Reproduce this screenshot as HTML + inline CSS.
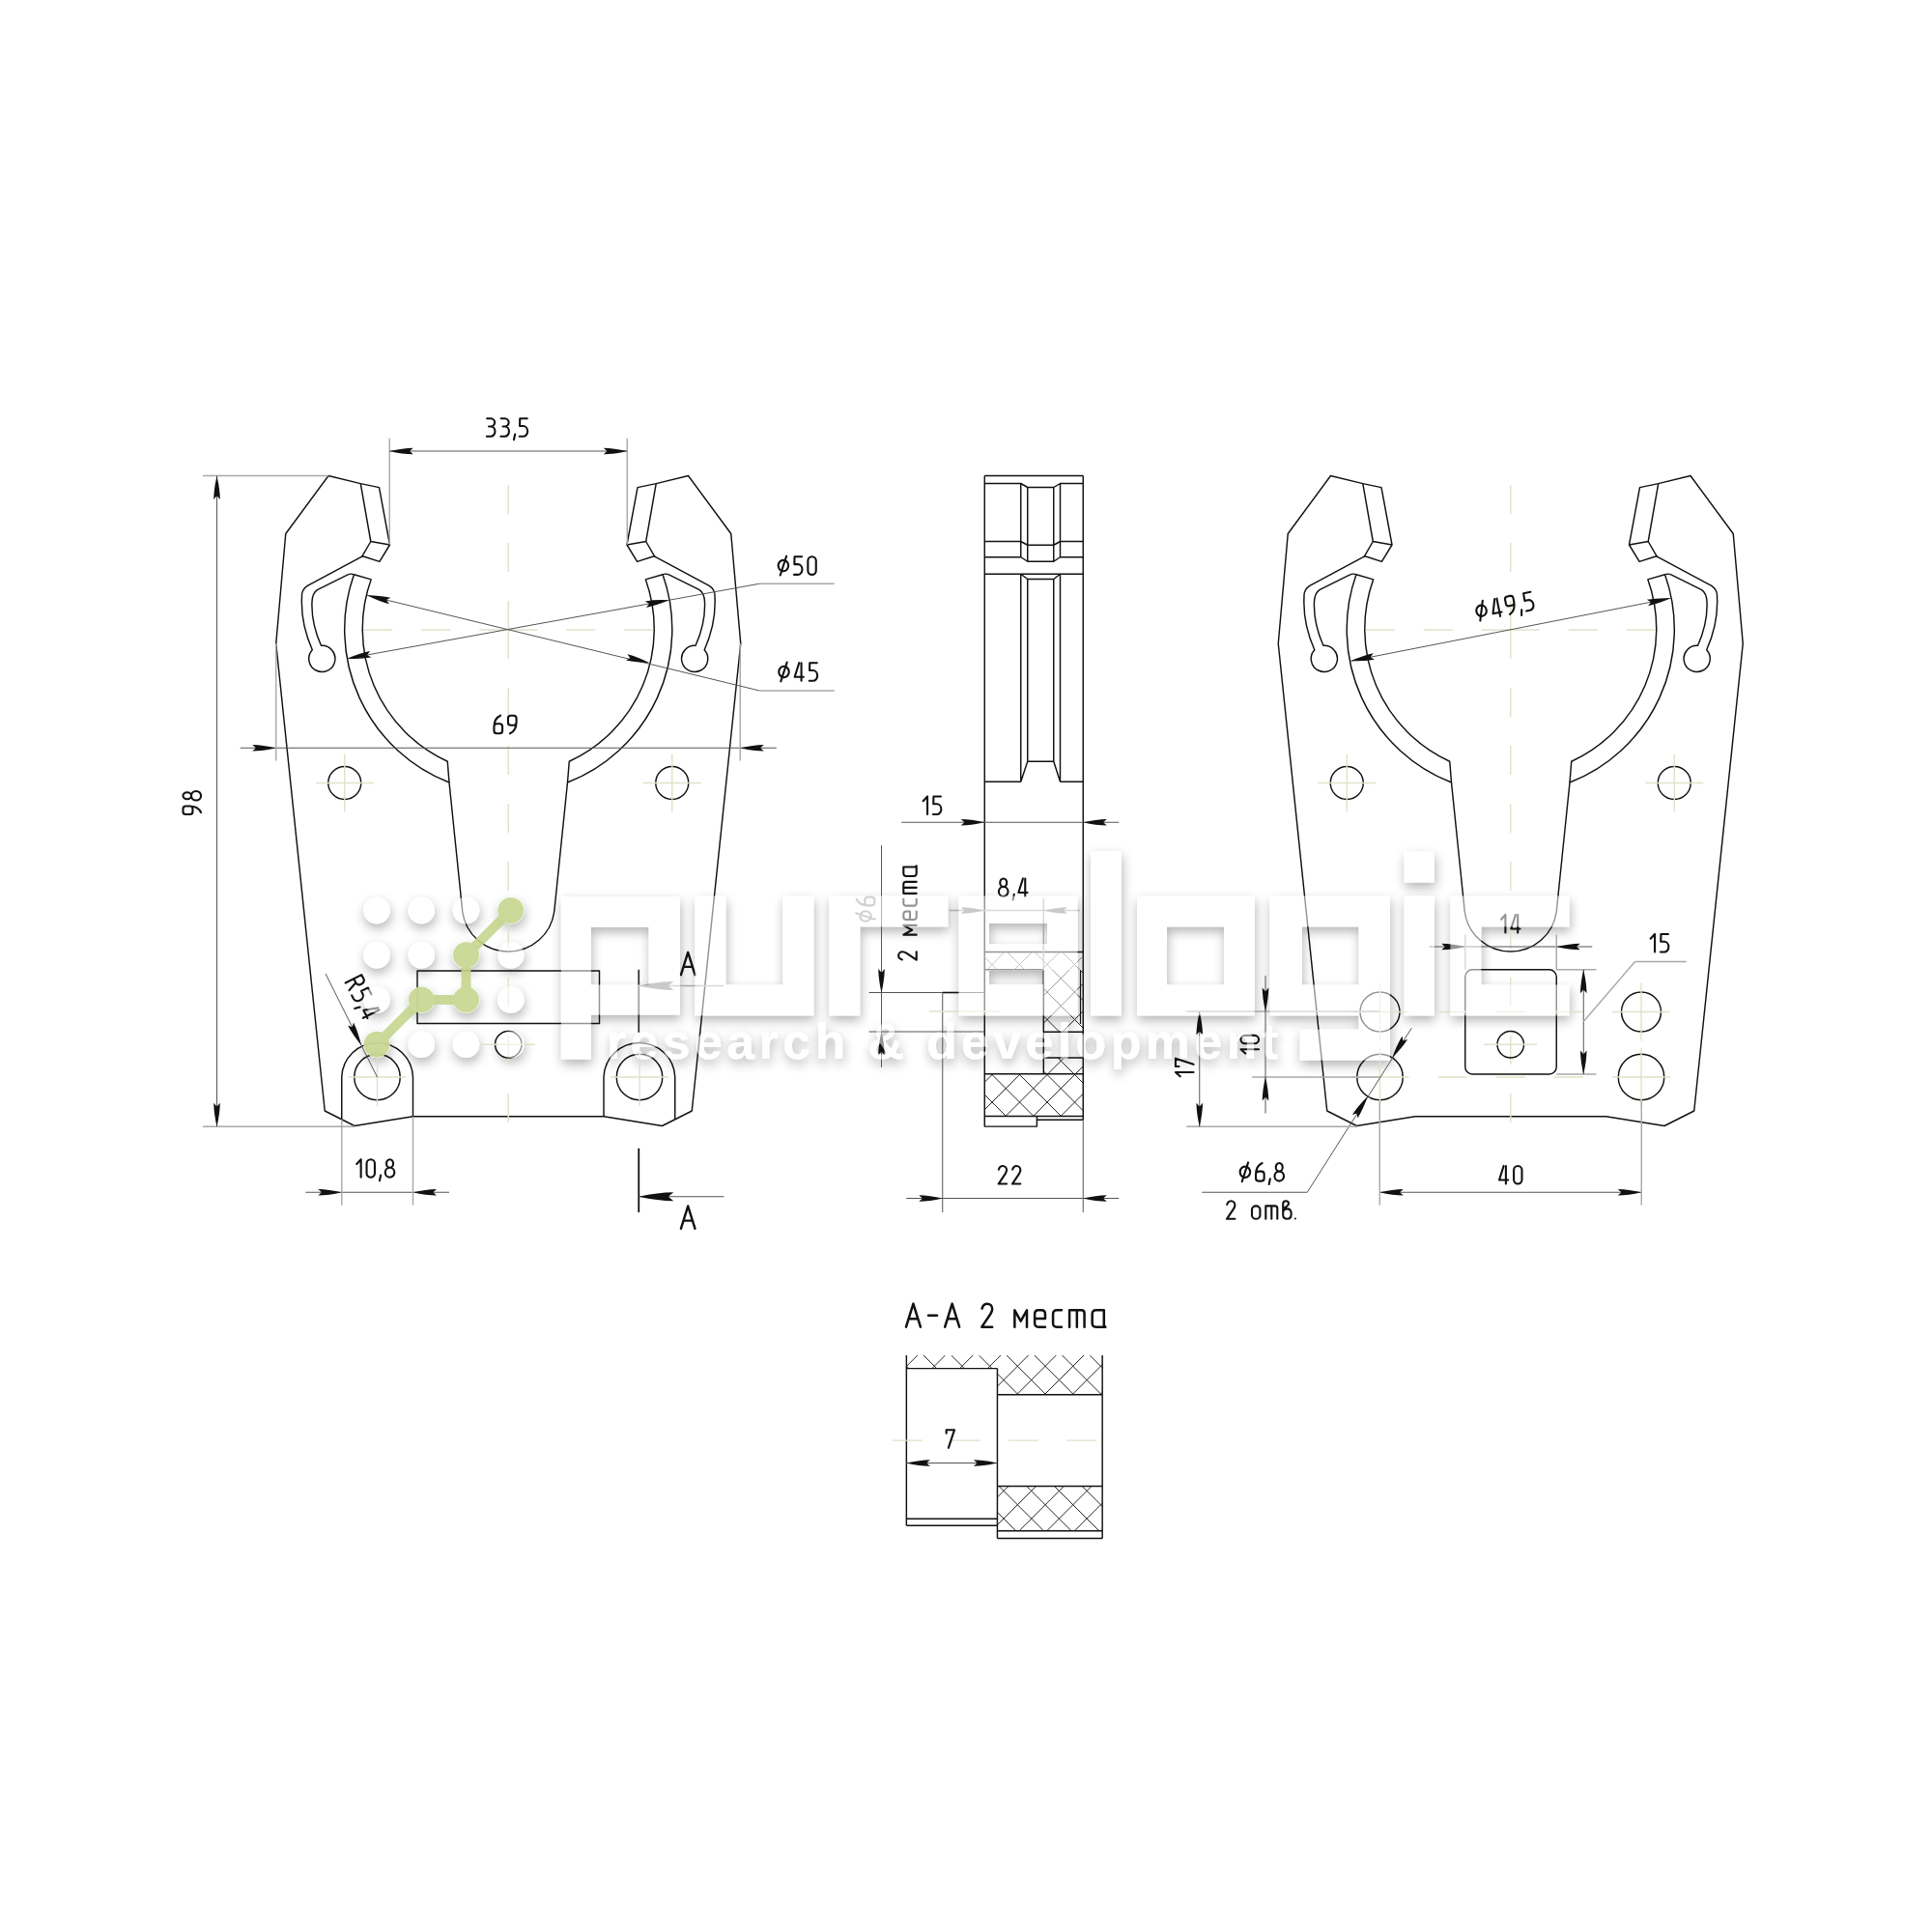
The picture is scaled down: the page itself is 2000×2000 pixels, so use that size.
<!DOCTYPE html><html><head><meta charset="utf-8"><style>html,body{margin:0;padding:0;background:#fff;}svg{display:block;}text{font-family:"Liberation Sans",sans-serif;}</style></head><body><svg width="2000" height="2000" viewBox="0 0 2000 2000" font-family="Liberation Sans, sans-serif"><defs><filter id="sh" x="-30%" y="-30%" width="160%" height="160%"><feGaussianBlur in="SourceAlpha" stdDeviation="6"/><feOffset dx="1" dy="5"/><feComponentTransfer><feFuncA type="linear" slope="0.3"/></feComponentTransfer><feMerge><feMergeNode/><feMergeNode in="SourceGraphic"/></feMerge></filter></defs><g filter="url(#sh)" fill="#fff"><path fill-rule="evenodd" d="M580.9 928 H703.9 V1050.6 H611.9 V1096.4 H580.9 Z M611.9 959.8 V1019.6 H671.7 V959.8 Z M719.4 927.5 H751.3 V1019.5 H810.5 V927.5 H842.3 V1051.25 H719.4 Z M858.3 927.5 H981.2 V959.2 H890.2 V1051.25 H858.3 Z M992.5 927.5 H1115.5 V1051.25 H992.5 Z M1024 956 V977 H1084 V956 Z M1024 1005 V1019 H1080 V1005 Z M1129 881 H1161 V1051.25 H1129 Z M1177 927.5 H1298.7 V1051.25 H1177 Z M1208 959.2 V1019.4 H1267 V959.2 Z M1314.5 927.5 H1439 V1097.5 H1345.8 V1065.8 H1406.7 V1051.25 H1314.5 Z M1347.8 959.2 V1019.4 H1406.7 V959.2 Z M1453.6 881.7 H1485 V913.6 H1453.6 Z M1453.6 927.5 H1485 V1051.25 H1453.6 Z M1501.4 927.5 H1624.6 V959.2 H1533.3 V1019.4 H1624.6 V1051.25 H1501.4 Z"/><circle cx="390.00" cy="942.50" r="13.75"/><circle cx="390.00" cy="988.75" r="13.75"/><circle cx="390.00" cy="1035.00" r="13.75"/><circle cx="390.00" cy="1081.25" r="13.75"/><circle cx="436.25" cy="942.50" r="13.75"/><circle cx="436.25" cy="988.75" r="13.75"/><circle cx="436.25" cy="1035.00" r="13.75"/><circle cx="436.25" cy="1081.25" r="13.75"/><circle cx="482.50" cy="942.50" r="13.75"/><circle cx="482.50" cy="988.75" r="13.75"/><circle cx="482.50" cy="1035.00" r="13.75"/><circle cx="482.50" cy="1081.25" r="13.75"/><circle cx="528.75" cy="942.50" r="13.75"/><circle cx="528.75" cy="988.75" r="13.75"/><circle cx="528.75" cy="1035.00" r="13.75"/><circle cx="528.75" cy="1081.25" r="13.75"/><text x="628" y="1096" font-size="52" font-weight="bold" textLength="695" lengthAdjust="spacing" >research &amp; development</text></g><defs><g id="fork"><g id="half"><path stroke="#111" stroke-width="1.45" fill="none" stroke-linejoin="round" d="M526.25 1155.75 L427.5 1155.75 L367 1165.5 L336.25 1150 L285.75 666.25 L295.75 552.5 L340 492.5 L373.3 500.65 L392.5 504.6 L403.5 564 L392.9 581.4 L377 576.3 Q375 575.6 373.3 576.8 L318.3 606.4 Q312 610.5 312.5 617.5 Q311 645 323.3 672.7 A13.6 13.6 0 1 0 332.4 668.3 Q322 645 323 623 Q323.5 614 328.4 610.7 L359.6 595.1 Q363.5 593.3 366.45 594.8 A170 170 0 0 0 465 810 L478.75 943.75 A47.7 47.7 0 0 0 526.25 985"/><path stroke="#111" stroke-width="1.45" fill="none" stroke-linejoin="round" d="M366.45 594.8 L384.2 599.85 A151 151 0 0 0 463.25 788.25 L465 810"/><path stroke="#111" stroke-width="1.45" fill="none" stroke-linejoin="round" d="M373.3 500.65 L383.8 560.5 L403.5 564 M383.8 560.5 L374.5 576.6"/><circle cx="356.75" cy="810.5" r="17" stroke="#111" stroke-width="1.45" fill="none" stroke-linejoin="round"/><line x1="326.75" y1="810.50" x2="386.75" y2="810.50" stroke="#dfe2c8" stroke-width="1.4" fill="none"/><line x1="356.75" y1="780.50" x2="356.75" y2="840.50" stroke="#dfe2c8" stroke-width="1.4" fill="none"/></g><use href="#half" transform="translate(1052.50,0) scale(-1,1)"/><line x1="526.25" y1="622.00" x2="526.25" y2="501.00" stroke="#dfe2c8" stroke-width="1.4" stroke-dasharray="30 30" stroke-dashoffset="30"/><line x1="526.25" y1="682.00" x2="526.25" y2="1170.00" stroke="#dfe2c8" stroke-width="1.4" stroke-dasharray="30 30" stroke-dashoffset="30"/><line x1="526.25" y1="622.00" x2="526.25" y2="682.00" stroke="#dfe2c8" stroke-width="1.4" fill="none"/><line x1="496.25" y1="652.00" x2="370.00" y2="652.00" stroke="#dfe2c8" stroke-width="1.4" stroke-dasharray="30 30" stroke-dashoffset="30"/><line x1="556.25" y1="652.00" x2="682.00" y2="652.00" stroke="#dfe2c8" stroke-width="1.4" stroke-dasharray="30 30" stroke-dashoffset="30"/><line x1="496.25" y1="652.00" x2="556.25" y2="652.00" stroke="#dfe2c8" stroke-width="1.4" fill="none"/></g></defs><use href="#fork"/><use href="#fork" transform="translate(1037.5,0)"/><path stroke="#111" stroke-width="1.45" fill="none" stroke-linejoin="round" d="M353.75 1158.8 L353.75 1115 A36.9 36.9 0 0 1 427.50 1115 L427.50 1155.75"/><circle cx="390.50" cy="1115" r="23.75" stroke="#111" stroke-width="1.45" fill="none" stroke-linejoin="round"/><line x1="360.50" y1="1115.00" x2="420.50" y2="1115.00" stroke="#dfe2c8" stroke-width="1.4" fill="none"/><line x1="390.50" y1="1085.00" x2="390.50" y2="1145.00" stroke="#dfe2c8" stroke-width="1.4" fill="none"/><path stroke="#111" stroke-width="1.45" fill="none" stroke-linejoin="round" d="M698.75 1158.8 L698.75 1115 A36.9 36.9 0 0 0 625.00 1115 L625.00 1155.75"/><circle cx="662.00" cy="1115" r="23.75" stroke="#111" stroke-width="1.45" fill="none" stroke-linejoin="round"/><line x1="632.00" y1="1115.00" x2="692.00" y2="1115.00" stroke="#dfe2c8" stroke-width="1.4" fill="none"/><line x1="662.00" y1="1085.00" x2="662.00" y2="1145.00" stroke="#dfe2c8" stroke-width="1.4" fill="none"/><circle cx="526.25" cy="1081.25" r="13.75" stroke="#111" stroke-width="1.45" fill="none" stroke-linejoin="round"/><line x1="498.00" y1="1081.25" x2="554.00" y2="1081.25" stroke="#dfe2c8" stroke-width="1.4" fill="none"/><rect x="432" y="1005" width="188.5" height="54.5" stroke="#111" stroke-width="1.45" fill="none" stroke-linejoin="round"/><line x1="403.25" y1="453.75" x2="403.25" y2="563.75" stroke="#a8a8a8" stroke-width="1.4" fill="none"/><line x1="649.25" y1="453.75" x2="649.25" y2="563.75" stroke="#a8a8a8" stroke-width="1.4" fill="none"/><line x1="403.25" y1="467.00" x2="649.25" y2="467.00" stroke="#555" stroke-width="1" fill="none"/><path fill="#111" d="M403.25 467.00 Q416.73 463.87 427.75 463.70 L424.07 467.00 L427.75 470.30 Q416.73 470.13 403.25 467.00 Z"/><path fill="#111" d="M649.25 467.00 Q635.77 470.13 624.75 470.30 L628.42 467.00 L624.75 463.70 Q635.77 463.87 649.25 467.00 Z"/><g transform="translate(525.00,442.50) rotate(0.00) scale(1.0000,1.0000) translate(-21.15,9.3)" fill="none" stroke="#111" stroke-width="2.100" stroke-linecap="round" stroke-linejoin="round"><path transform="translate(0.00,0)" d="M0.3 -18.6 H4.2 A4.1 4.15 0 0 1 4.2 -10.3 H2.2 M4.2 -10.3 A4.4 5.15 0 0 1 4.2 0 H0"/><path transform="translate(14.50,0)" d="M0.3 -18.6 H4.2 A4.1 4.15 0 0 1 4.2 -10.3 H2.2 M4.2 -10.3 A4.4 5.15 0 0 1 4.2 0 H0"/><path transform="translate(27.70,0)" d="M1.6 -2.2 L0.4 3.4"/><path transform="translate(33.90,0)" d="M8 -18.6 H0.5 L0.3 -10.8 H3.8 A4.6 5.4 0 0 1 3.8 0 H0"/></g><line x1="210.00" y1="492.50" x2="340.00" y2="492.50" stroke="#a8a8a8" stroke-width="1.4" fill="none"/><line x1="210.00" y1="1166.25" x2="367.00" y2="1166.25" stroke="#a8a8a8" stroke-width="1.4" fill="none"/><line x1="224.50" y1="492.50" x2="224.50" y2="1166.25" stroke="#555" stroke-width="1" fill="none"/><path fill="#111" d="M224.50 492.50 Q227.63 505.98 227.80 517.00 L224.50 513.33 L221.20 517.00 Q221.37 505.98 224.50 492.50 Z"/><path fill="#111" d="M224.50 1166.25 Q221.37 1152.78 221.20 1141.75 L224.50 1145.42 L227.80 1141.75 Q227.63 1152.78 224.50 1166.25 Z"/><g transform="translate(198.75,831.00) rotate(-90.00) scale(1.0000,1.0000) translate(-12.05,9.3)" fill="none" stroke="#111" stroke-width="2.100" stroke-linecap="round" stroke-linejoin="round"><path transform="translate(0.00,0)" d="M2.8 -18.6 H5.8 Q8.6 -18.6 8.6 -15.8 V-11.4 Q8.6 -8.6 5.8 -8.6 H2.8 Q0 -8.6 0 -11.4 V-15.8 Q0 -18.6 2.8 -18.6 Z M8.6 -12.1 C8.6 -5.6 5.6 -1.6 2 0"/><path transform="translate(14.50,0)" d="M4.8 -10 A3.5 4.3 0 1 1 4.8 -18.6 A3.5 4.3 0 1 1 4.8 -10 Z M4.8 -10 A4.8 5 0 1 1 4.8 0 A4.8 5 0 1 1 4.8 -10 Z"/></g><line x1="248.75" y1="774.25" x2="803.75" y2="774.25" stroke="#555" stroke-width="1" fill="none"/><path fill="#111" d="M285.75 774.25 Q272.27 777.38 261.25 777.55 L264.93 774.25 L261.25 770.95 Q272.27 771.12 285.75 774.25 Z"/><path fill="#111" d="M766.25 774.25 Q779.73 771.12 790.75 770.95 L787.08 774.25 L790.75 777.55 Q779.73 777.38 766.25 774.25 Z"/><line x1="285.75" y1="666.25" x2="285.75" y2="787.50" stroke="#a8a8a8" stroke-width="1.4" fill="none"/><line x1="766.25" y1="666.25" x2="766.25" y2="787.50" stroke="#a8a8a8" stroke-width="1.4" fill="none"/><g transform="translate(523.00,750.00) rotate(0.00) scale(1.0000,1.0000) translate(-11.55,9.3)" fill="none" stroke="#111" stroke-width="2.100" stroke-linecap="round" stroke-linejoin="round"><path transform="translate(0.00,0)" d="M2.8 0 H5.8 Q8.6 0 8.6 -2.8 V-7.2 Q8.6 -10 5.8 -10 H2.8 Q0 -10 0 -7.2 V-2.8 Q0 0 2.8 0 Z M0 -6.5 C0 -13 3 -17 6.6 -18.6"/><path transform="translate(14.50,0)" d="M2.8 -18.6 H5.8 Q8.6 -18.6 8.6 -15.8 V-11.4 Q8.6 -8.6 5.8 -8.6 H2.8 Q0 -8.6 0 -11.4 V-15.8 Q0 -18.6 2.8 -18.6 Z M8.6 -12.1 C8.6 -5.6 5.6 -1.6 2 0"/></g><line x1="359.60" y1="681.70" x2="786.25" y2="604.25" stroke="#555" stroke-width="1" fill="none"/><line x1="786.25" y1="604.25" x2="863.75" y2="604.25" stroke="#a8a8a8" stroke-width="1.4" fill="none"/><path fill="#111" d="M359.60 681.70 Q372.30 676.21 383.12 674.08 L380.09 677.98 L384.30 680.57 Q373.42 682.38 359.60 681.70 Z"/><path fill="#111" d="M692.50 621.30 Q679.80 626.79 668.98 628.92 L672.01 625.02 L667.80 622.43 Q678.68 620.62 692.50 621.30 Z"/><line x1="379.86" y1="616.20" x2="786.25" y2="715.00" stroke="#555" stroke-width="1" fill="none"/><line x1="786.25" y1="715.00" x2="863.75" y2="715.00" stroke="#a8a8a8" stroke-width="1.4" fill="none"/><path fill="#111" d="M379.86 616.20 Q393.69 616.34 404.45 618.78 L400.10 621.12 L402.89 625.19 Q392.21 622.43 379.86 616.20 Z"/><path fill="#111" d="M672.50 686.20 Q658.67 686.06 647.91 683.62 L652.26 681.28 L649.47 677.21 Q660.15 679.97 672.50 686.20 Z"/><g transform="translate(825.20,585.60) rotate(0.00) scale(1.0000,1.0000) translate(-19.55,9.3)" fill="none" stroke="#111" stroke-width="2.100" stroke-linecap="round" stroke-linejoin="round"><path transform="translate(0.00,0)" d="M0 -9.3 A5.25 5.7 0 1 1 10.5 -9.3 A5.25 5.7 0 1 1 0 -9.3 Z M2.05 0.6 L8.45 -19.2"/><path transform="translate(16.40,0)" d="M8 -18.6 H0.5 L0.3 -10.8 H3.8 A4.6 5.4 0 0 1 3.8 0 H0"/><path transform="translate(30.70,0)" d="M0 -4.2 V-14.4 A4.2 4.2 0 0 1 8.4 -14.4 V-4.2 A4.2 4.2 0 0 1 0 -4.2 Z"/></g><g transform="translate(826.20,695.50) rotate(0.00) scale(1.0000,1.0000) translate(-19.95,9.3)" fill="none" stroke="#111" stroke-width="2.100" stroke-linecap="round" stroke-linejoin="round"><path transform="translate(0.00,0)" d="M0 -9.3 A5.25 5.7 0 1 1 10.5 -9.3 A5.25 5.7 0 1 1 0 -9.3 Z M2.05 0.6 L8.45 -19.2"/><path transform="translate(16.40,0)" d="M4.6 -18.6 L0 -4 H9.2 M6.9 -18.6 V0"/><path transform="translate(31.50,0)" d="M8 -18.6 H0.5 L0.3 -10.8 H3.8 A4.6 5.4 0 0 1 3.8 0 H0"/></g><line x1="337.00" y1="1008.00" x2="390.50" y2="1115.00" stroke="#555" stroke-width="1" fill="none"/><path fill="#111" d="M374.00 1081.90 Q365.17 1071.25 360.09 1061.46 L364.69 1063.27 L365.99 1058.51 Q370.78 1068.45 374.00 1081.90 Z"/><g transform="translate(375.60,1032.50) rotate(63.40) scale(1.0000,1.0000) translate(-21.45,9.3)" fill="none" stroke="#111" stroke-width="2.100" stroke-linecap="round" stroke-linejoin="round"><path transform="translate(0.00,0)" d="M0 0 V-18.6 H4.4 Q8.4 -18.6 8.4 -14 Q8.4 -9.6 4.4 -9.6 H0 M4.6 -9.6 L8.6 0"/><path transform="translate(14.50,0)" d="M8 -18.6 H0.5 L0.3 -10.8 H3.8 A4.6 5.4 0 0 1 3.8 0 H0"/><path transform="translate(27.50,0)" d="M1.6 -2.2 L0.4 3.4"/><path transform="translate(33.70,0)" d="M4.6 -18.6 L0 -4 H9.2 M6.9 -18.6 V0"/></g><line x1="316.25" y1="1234.25" x2="465.00" y2="1234.25" stroke="#555" stroke-width="1" fill="none"/><path fill="#111" d="M353.75 1234.25 Q340.27 1237.38 329.25 1237.55 L332.93 1234.25 L329.25 1230.95 Q340.27 1231.12 353.75 1234.25 Z"/><path fill="#111" d="M427.50 1234.25 Q440.98 1231.12 452.00 1230.95 L448.32 1234.25 L452.00 1237.55 Q440.98 1237.38 427.50 1234.25 Z"/><line x1="353.75" y1="1158.80" x2="353.75" y2="1247.50" stroke="#a8a8a8" stroke-width="1.4" fill="none"/><line x1="427.50" y1="1155.75" x2="427.50" y2="1247.50" stroke="#a8a8a8" stroke-width="1.4" fill="none"/><g transform="translate(388.80,1209.50) rotate(0.00) scale(1.0000,1.0000) translate(-19.55,9.3)" fill="none" stroke="#111" stroke-width="2.100" stroke-linecap="round" stroke-linejoin="round"><path transform="translate(0.00,0)" d="M0 -13.8 L4.4 -18.6 V0"/><path transform="translate(10.30,0)" d="M0 -4.2 V-14.4 A4.2 4.2 0 0 1 8.4 -14.4 V-4.2 A4.2 4.2 0 0 1 0 -4.2 Z"/><path transform="translate(23.30,0)" d="M1.6 -2.2 L0.4 3.4"/><path transform="translate(29.50,0)" d="M4.8 -10 A3.5 4.3 0 1 1 4.8 -18.6 A3.5 4.3 0 1 1 4.8 -10 Z M4.8 -10 A4.8 5 0 1 1 4.8 0 A4.8 5 0 1 1 4.8 -10 Z"/></g><line x1="661.25" y1="1003.75" x2="661.25" y2="1068.75" stroke="#333" stroke-width="1.8"/><line x1="661.25" y1="1020.50" x2="749.50" y2="1020.50" stroke="#a8a8a8" stroke-width="1.4" fill="none"/><path fill="#888" d="M661.25 1020.50 Q681.05 1016.23 697.25 1016.00 L691.85 1020.50 L697.25 1025.00 Q681.05 1024.78 661.25 1020.50 Z"/><g transform="translate(712.20,997.50) rotate(0.00) scale(1.2560,1.2560) translate(-5.80,9.3)" fill="none" stroke="#111" stroke-width="1.911" stroke-linecap="round" stroke-linejoin="round"><path transform="translate(0.00,0)" d="M0 0 L5.8 -18.6 L11.6 0 M2.1 -6.6 H9.5"/></g><line x1="661.25" y1="1188.75" x2="661.25" y2="1255" stroke="#111" stroke-width="1.8"/><line x1="661.25" y1="1238.75" x2="749.50" y2="1238.75" stroke="#555" stroke-width="1" fill="none"/><path fill="#111" d="M661.25 1238.75 Q681.05 1234.47 697.25 1234.25 L691.85 1238.75 L697.25 1243.25 Q681.05 1243.03 661.25 1238.75 Z"/><g transform="translate(712.20,1260.20) rotate(0.00) scale(1.2560,1.2560) translate(-5.80,9.3)" fill="none" stroke="#111" stroke-width="1.911" stroke-linecap="round" stroke-linejoin="round"><path transform="translate(0.00,0)" d="M0 0 L5.8 -18.6 L11.6 0 M2.1 -6.6 H9.5"/></g><path stroke="#111" stroke-width="1.45" fill="none" stroke-linejoin="round" d="M1019.25 492.5 H1121.25 M1019.25 492.5 V1166.1 H1073.4 V1155.5 M1073.4 1159.3 H1121.25 M1121.25 492.5 V1159.3 M1019.25 500.5 H1056.75 L1063.75 504.5 H1090.75 L1097.5 500.5 H1121.25 M1019.25 560.5 H1056.75 L1063.75 564.25 H1090.75 L1097.5 560.5 H1121.25 M1019.25 576.75 H1056.75 L1063.75 581.25 H1090.75 L1097.5 576.75 H1121.25 M1019.25 594.25 H1121.25 M1056.75 500.5 V576.75 M1097.5 500.5 V576.75 M1063.75 504.5 V581.25 M1090.75 504.5 V581.25 M1056.75 594.25 L1063.75 599.5 H1090.75 L1097.5 594.25 M1056.75 594.25 V809.25 M1097.5 594.25 V809.25 M1063.75 599.5 V788.25 H1090.75 V599.5 M1063.75 788.25 L1056.75 809.25 M1090.75 788.25 L1097.5 809.25 M1019.25 809.25 H1056.75 M1097.5 809.25 H1121.25 M1019.25 985.4 H1121.25 M1019.25 1003.8 H1080.3 V1111.8 H1019.25 M1080.3 1068.3 H1121.25 M1080.3 1095 H1121.25 M1080.3 1111.8 H1121.25 M1019.25 1155.5 H1121.25"/><line x1="1118.50" y1="1005.00" x2="1118.50" y2="1060.00" stroke="#111" stroke-width="1.2"/><clipPath id="hc1"><rect x="1019.25" y="985.40" width="102.00" height="18.40"/></clipPath><g clip-path="url(#hc1)" stroke="#777" stroke-width="0.95"><line x1="985.40" y1="985.40" x2="1003.80" y2="1003.80"/><line x1="1013.90" y1="985.40" x2="1032.30" y2="1003.80"/><line x1="1042.40" y1="985.40" x2="1060.80" y2="1003.80"/><line x1="1070.90" y1="985.40" x2="1089.30" y2="1003.80"/><line x1="1099.40" y1="985.40" x2="1117.80" y2="1003.80"/><line x1="1011.60" y1="985.40" x2="993.20" y2="1003.80"/><line x1="1040.10" y1="985.40" x2="1021.70" y2="1003.80"/><line x1="1068.60" y1="985.40" x2="1050.20" y2="1003.80"/><line x1="1097.10" y1="985.40" x2="1078.70" y2="1003.80"/><line x1="1125.60" y1="985.40" x2="1107.20" y2="1003.80"/></g><clipPath id="hc2"><rect x="1080.30" y="1003.80" width="40.95" height="64.50"/></clipPath><g clip-path="url(#hc2)" stroke="#1a1a1a" stroke-width="0.95"><line x1="1003.80" y1="1003.80" x2="1068.30" y2="1068.30"/><line x1="1032.30" y1="1003.80" x2="1096.80" y2="1068.30"/><line x1="1060.80" y1="1003.80" x2="1125.30" y2="1068.30"/><line x1="1089.30" y1="1003.80" x2="1153.80" y2="1068.30"/><line x1="1117.80" y1="1003.80" x2="1182.30" y2="1068.30"/><line x1="1078.70" y1="1003.80" x2="1014.20" y2="1068.30"/><line x1="1107.20" y1="1003.80" x2="1042.70" y2="1068.30"/><line x1="1135.70" y1="1003.80" x2="1071.20" y2="1068.30"/><line x1="1164.20" y1="1003.80" x2="1099.70" y2="1068.30"/></g><clipPath id="hc3"><rect x="1080.30" y="1095.00" width="40.95" height="16.80"/></clipPath><g clip-path="url(#hc3)" stroke="#1a1a1a" stroke-width="0.95"><line x1="1038.00" y1="1095.00" x2="1054.80" y2="1111.80"/><line x1="1066.50" y1="1095.00" x2="1083.30" y2="1111.80"/><line x1="1095.00" y1="1095.00" x2="1111.80" y2="1111.80"/><line x1="1073.00" y1="1095.00" x2="1056.20" y2="1111.80"/><line x1="1101.50" y1="1095.00" x2="1084.70" y2="1111.80"/><line x1="1130.00" y1="1095.00" x2="1113.20" y2="1111.80"/></g><clipPath id="hc4"><rect x="1019.25" y="1111.80" width="102.00" height="43.70"/></clipPath><g clip-path="url(#hc4)" stroke="#1a1a1a" stroke-width="0.95"><line x1="969.30" y1="1111.80" x2="1013.00" y2="1155.50"/><line x1="997.80" y1="1111.80" x2="1041.50" y2="1155.50"/><line x1="1026.30" y1="1111.80" x2="1070.00" y2="1155.50"/><line x1="1054.80" y1="1111.80" x2="1098.50" y2="1155.50"/><line x1="1083.30" y1="1111.80" x2="1127.00" y2="1155.50"/><line x1="1111.80" y1="1111.80" x2="1155.50" y2="1155.50"/><line x1="999.20" y1="1111.80" x2="955.50" y2="1155.50"/><line x1="1027.70" y1="1111.80" x2="984.00" y2="1155.50"/><line x1="1056.20" y1="1111.80" x2="1012.50" y2="1155.50"/><line x1="1084.70" y1="1111.80" x2="1041.00" y2="1155.50"/><line x1="1113.20" y1="1111.80" x2="1069.50" y2="1155.50"/><line x1="1141.70" y1="1111.80" x2="1098.00" y2="1155.50"/></g><line x1="933.25" y1="851.25" x2="1158.25" y2="851.25" stroke="#555" stroke-width="1" fill="none"/><path fill="#111" d="M1019.25 851.25 Q1005.77 854.38 994.75 854.55 L998.42 851.25 L994.75 847.95 Q1005.77 848.12 1019.25 851.25 Z"/><path fill="#111" d="M1121.25 851.25 Q1134.72 848.12 1145.75 847.95 L1142.08 851.25 L1145.75 854.55 Q1134.72 854.38 1121.25 851.25 Z"/><g transform="translate(965.00,833.75) rotate(0.00) scale(1.0000,1.0000) translate(-9.35,9.3)" fill="none" stroke="#111" stroke-width="2.100" stroke-linecap="round" stroke-linejoin="round"><path transform="translate(0.00,0)" d="M0 -13.8 L4.4 -18.6 V0"/><path transform="translate(10.30,0)" d="M8 -18.6 H0.5 L0.3 -10.8 H3.8 A4.6 5.4 0 0 1 3.8 0 H0"/></g><line x1="912.50" y1="875.00" x2="912.50" y2="1105.00" stroke="#555" stroke-width="1" fill="none"/><path fill="#111" d="M912.50 1027.50 Q909.37 1014.02 909.20 1003.00 L912.50 1006.67 L915.80 1003.00 Q915.63 1014.02 912.50 1027.50 Z"/><path fill="#111" d="M912.50 1068.00 Q915.63 1081.47 915.80 1092.50 L912.50 1088.83 L909.20 1092.50 Q909.37 1081.47 912.50 1068.00 Z"/><line x1="899.50" y1="1027.50" x2="1019.25" y2="1027.50" stroke="#555" stroke-width="1" fill="none"/><line x1="899.50" y1="1068.00" x2="1019.25" y2="1068.00" stroke="#555" stroke-width="1" fill="none"/><line x1="975.75" y1="1027.50" x2="992.50" y2="1027.50" stroke="#111" stroke-width="1.6"/><line x1="975.75" y1="1027.50" x2="975.75" y2="1255.00" stroke="#555" stroke-width="1" fill="none"/><line x1="962.00" y1="1047.00" x2="1035.00" y2="1047.00" stroke="#dfe2c8" stroke-width="1.4" fill="none"/><g transform="translate(896.00,941.25) rotate(-90.00) scale(1.0000,1.0000) translate(-12.50,9.3)" fill="none" stroke="#999" stroke-width="2.100" stroke-linecap="round" stroke-linejoin="round"><path transform="translate(0.00,0)" d="M0 -9.3 A5.25 5.7 0 1 1 10.5 -9.3 A5.25 5.7 0 1 1 0 -9.3 Z M2.05 0.6 L8.45 -19.2"/><path transform="translate(16.40,0)" d="M2.8 0 H5.8 Q8.6 0 8.6 -2.8 V-7.2 Q8.6 -10 5.8 -10 H2.8 Q0 -10 0 -7.2 V-2.8 Q0 0 2.8 0 Z M0 -6.5 C0 -13 3 -17 6.6 -18.6"/></g><g transform="translate(939.40,945.00) rotate(-90.00) scale(1.0000,1.0000) translate(-48.65,9.3)" fill="none" stroke="#111" stroke-width="2.100" stroke-linecap="round" stroke-linejoin="round"><path transform="translate(0.00,0)" d="M0.2 -14.8 C0.9 -17.4 2.6 -18.6 4.3 -18.6 C6.7 -18.6 8.4 -16.8 8.4 -14.4 C8.4 -12.9 7.8 -11.7 7 -10.4 L0 0 H8.4"/><path transform="translate(26.00,0)" d="M0 0 V-13.4 L4.9 -4.6 L9.8 -13.4 V0"/><path transform="translate(41.70,0)" d="M8.4 0 H3 Q0 0 0 -3 V-10.4 Q0 -13.4 3 -13.4 H5.4 Q8.4 -13.4 8.4 -10.4 V-6.7 H0"/><path transform="translate(56.00,0)" d="M6.9 -13.4 H3 Q0 -13.4 0 -10.4 V-3 Q0 0 3 0 H6.9"/><path transform="translate(68.80,0)" d="M0 0 V-13.4 H9.5 Q12 -13.4 12 -10.9 V0 M6 -13.4 V0"/><path transform="translate(86.70,0)" d="M9.4 -13.4 H3 Q0 -13.4 0 -10.4 V-3 Q0 0 3 0 H9.4 M9.4 -13.4 V-1.3 L10.6 0.1"/></g><line x1="982.50" y1="942.50" x2="1117.50" y2="942.50" stroke="#a8a8a8" stroke-width="1.4" fill="none"/><path fill="#888" d="M1019.25 942.50 Q1005.77 945.63 994.75 945.80 L998.42 942.50 L994.75 939.20 Q1005.77 939.37 1019.25 942.50 Z"/><path fill="#888" d="M1080.30 942.50 Q1093.77 939.37 1104.80 939.20 L1101.12 942.50 L1104.80 945.80 Q1093.77 945.63 1080.30 942.50 Z"/><line x1="1080.30" y1="930.00" x2="1080.30" y2="1004.00" stroke="#a8a8a8" stroke-width="1.4" fill="none"/><g transform="translate(1048.75,918.75) rotate(0.00) scale(1.0000,1.0000) translate(-14.80,9.3)" fill="none" stroke="#111" stroke-width="2.100" stroke-linecap="round" stroke-linejoin="round"><path transform="translate(0.00,0)" d="M4.8 -10 A3.5 4.3 0 1 1 4.8 -18.6 A3.5 4.3 0 1 1 4.8 -10 Z M4.8 -10 A4.8 5 0 1 1 4.8 0 A4.8 5 0 1 1 4.8 -10 Z"/><path transform="translate(14.20,0)" d="M1.6 -2.2 L0.4 3.4"/><path transform="translate(20.40,0)" d="M4.6 -18.6 L0 -4 H9.2 M6.9 -18.6 V0"/></g><line x1="938.25" y1="1240.50" x2="1158.25" y2="1240.50" stroke="#555" stroke-width="1" fill="none"/><path fill="#111" d="M975.75 1240.50 Q962.27 1243.63 951.25 1243.80 L954.92 1240.50 L951.25 1237.20 Q962.27 1237.37 975.75 1240.50 Z"/><path fill="#111" d="M1121.25 1240.50 Q1134.72 1237.37 1145.75 1237.20 L1142.08 1240.50 L1145.75 1243.80 Q1134.72 1243.63 1121.25 1240.50 Z"/><line x1="1121.25" y1="1159.40" x2="1121.25" y2="1255.00" stroke="#555" stroke-width="1" fill="none"/><g transform="translate(1045.00,1216.25) rotate(0.00) scale(1.0000,1.0000) translate(-11.35,9.3)" fill="none" stroke="#111" stroke-width="2.100" stroke-linecap="round" stroke-linejoin="round"><path transform="translate(0.00,0)" d="M0.2 -14.8 C0.9 -17.4 2.6 -18.6 4.3 -18.6 C6.7 -18.6 8.4 -16.8 8.4 -14.4 C8.4 -12.9 7.8 -11.7 7 -10.4 L0 0 H8.4"/><path transform="translate(14.30,0)" d="M0.2 -14.8 C0.9 -17.4 2.6 -18.6 4.3 -18.6 C6.7 -18.6 8.4 -16.8 8.4 -14.4 C8.4 -12.9 7.8 -11.7 7 -10.4 L0 0 H8.4"/></g><circle cx="1428.50" cy="1047.5" r="20.5" stroke="#111" stroke-width="1.45" fill="none" stroke-linejoin="round"/><circle cx="1428.50" cy="1115" r="23.75" stroke="#111" stroke-width="1.45" fill="none" stroke-linejoin="round"/><line x1="1398.50" y1="1047.50" x2="1458.50" y2="1047.50" stroke="#dfe2c8" stroke-width="1.4" fill="none"/><line x1="1428.50" y1="1017.50" x2="1428.50" y2="1077.50" stroke="#dfe2c8" stroke-width="1.4" fill="none"/><line x1="1398.50" y1="1115.00" x2="1458.50" y2="1115.00" stroke="#dfe2c8" stroke-width="1.4" fill="none"/><line x1="1428.50" y1="1085.00" x2="1428.50" y2="1145.00" stroke="#dfe2c8" stroke-width="1.4" fill="none"/><circle cx="1699.00" cy="1047.5" r="20.5" stroke="#111" stroke-width="1.45" fill="none" stroke-linejoin="round"/><circle cx="1699.00" cy="1115" r="23.75" stroke="#111" stroke-width="1.45" fill="none" stroke-linejoin="round"/><line x1="1669.00" y1="1047.50" x2="1729.00" y2="1047.50" stroke="#dfe2c8" stroke-width="1.4" fill="none"/><line x1="1699.00" y1="1017.50" x2="1699.00" y2="1077.50" stroke="#dfe2c8" stroke-width="1.4" fill="none"/><line x1="1669.00" y1="1115.00" x2="1729.00" y2="1115.00" stroke="#dfe2c8" stroke-width="1.4" fill="none"/><line x1="1699.00" y1="1085.00" x2="1699.00" y2="1145.00" stroke="#dfe2c8" stroke-width="1.4" fill="none"/><rect x="1516.75" y="1003.75" width="94.5" height="108.25" rx="7.5" stroke="#111" stroke-width="1.45" fill="none" stroke-linejoin="round"/><circle cx="1563.75" cy="1081.25" r="13.75" stroke="#111" stroke-width="1.45" fill="none" stroke-linejoin="round"/><line x1="1536.00" y1="1081.25" x2="1591.00" y2="1081.25" stroke="#dfe2c8" stroke-width="1.4" fill="none"/><line x1="1488.75" y1="1047.50" x2="1638.75" y2="1047.50" stroke="#dfe2c8" stroke-width="1.4" stroke-dasharray="30 30" stroke-dashoffset="0"/><line x1="1488.75" y1="1115.00" x2="1638.75" y2="1115.00" stroke="#dfe2c8" stroke-width="1.4" stroke-dasharray="30 30" stroke-dashoffset="0"/><line x1="1479.50" y1="980.00" x2="1648.25" y2="980.00" stroke="#555" stroke-width="1" fill="none"/><path fill="#111" d="M1516.75 980.00 Q1503.28 983.13 1492.25 983.30 L1495.92 980.00 L1492.25 976.70 Q1503.28 976.87 1516.75 980.00 Z"/><path fill="#111" d="M1611.25 980.00 Q1624.72 976.87 1635.75 976.70 L1632.08 980.00 L1635.75 983.30 Q1624.72 983.13 1611.25 980.00 Z"/><line x1="1516.75" y1="967.50" x2="1516.75" y2="1003.75" stroke="#a8a8a8" stroke-width="1.4" fill="none"/><line x1="1611.25" y1="967.50" x2="1611.25" y2="1003.75" stroke="#a8a8a8" stroke-width="1.4" fill="none"/><g transform="translate(1563.75,956.25) rotate(0.00) scale(1.0000,1.0000) translate(-9.75,9.3)" fill="none" stroke="#111" stroke-width="2.100" stroke-linecap="round" stroke-linejoin="round"><path transform="translate(0.00,0)" d="M0 -13.8 L4.4 -18.6 V0"/><path transform="translate(10.30,0)" d="M4.6 -18.6 L0 -4 H9.2 M6.9 -18.6 V0"/></g><line x1="1611.25" y1="1003.75" x2="1652.50" y2="1003.75" stroke="#a8a8a8" stroke-width="1.4" fill="none"/><line x1="1611.25" y1="1112.00" x2="1652.50" y2="1112.00" stroke="#a8a8a8" stroke-width="1.4" fill="none"/><line x1="1639.25" y1="1003.75" x2="1639.25" y2="1112.00" stroke="#555" stroke-width="1" fill="none"/><path fill="#111" d="M1639.25 1003.75 Q1642.38 1017.23 1642.55 1028.25 L1639.25 1024.58 L1635.95 1028.25 Q1636.12 1017.23 1639.25 1003.75 Z"/><path fill="#111" d="M1639.25 1112.00 Q1636.12 1098.53 1635.95 1087.50 L1639.25 1091.17 L1642.55 1087.50 Q1642.38 1098.53 1639.25 1112.00 Z"/><line x1="1639.25" y1="1057.50" x2="1692.50" y2="995.50" stroke="#a8a8a8" stroke-width="1.4" fill="none"/><line x1="1692.50" y1="995.50" x2="1745.75" y2="995.50" stroke="#a8a8a8" stroke-width="1.4" fill="none"/><g transform="translate(1718.00,976.25) rotate(0.00) scale(1.0000,1.0000) translate(-9.35,9.3)" fill="none" stroke="#111" stroke-width="2.100" stroke-linecap="round" stroke-linejoin="round"><path transform="translate(0.00,0)" d="M0 -13.8 L4.4 -18.6 V0"/><path transform="translate(10.30,0)" d="M8 -18.6 H0.5 L0.3 -10.8 H3.8 A4.6 5.4 0 0 1 3.8 0 H0"/></g><line x1="1428.25" y1="1234.25" x2="1699.25" y2="1234.25" stroke="#555" stroke-width="1" fill="none"/><path fill="#111" d="M1428.25 1234.25 Q1441.72 1231.12 1452.75 1230.95 L1449.08 1234.25 L1452.75 1237.55 Q1441.72 1237.38 1428.25 1234.25 Z"/><path fill="#111" d="M1699.25 1234.25 Q1685.78 1237.38 1674.75 1237.55 L1678.42 1234.25 L1674.75 1230.95 Q1685.78 1231.12 1699.25 1234.25 Z"/><line x1="1428.25" y1="1140.00" x2="1428.25" y2="1247.50" stroke="#a8a8a8" stroke-width="1.4" fill="none"/><line x1="1699.25" y1="1140.00" x2="1699.25" y2="1247.50" stroke="#a8a8a8" stroke-width="1.4" fill="none"/><g transform="translate(1563.75,1216.25) rotate(0.00) scale(1.0000,1.0000) translate(-11.75,9.3)" fill="none" stroke="#111" stroke-width="2.100" stroke-linecap="round" stroke-linejoin="round"><path transform="translate(0.00,0)" d="M4.6 -18.6 L0 -4 H9.2 M6.9 -18.6 V0"/><path transform="translate(15.10,0)" d="M0 -4.2 V-14.4 A4.2 4.2 0 0 1 8.4 -14.4 V-4.2 A4.2 4.2 0 0 1 0 -4.2 Z"/></g><line x1="1461.25" y1="1064.25" x2="1353.25" y2="1234.25" stroke="#555" stroke-width="1" fill="none"/><line x1="1244.25" y1="1234.25" x2="1353.25" y2="1234.25" stroke="#555" stroke-width="1" fill="none"/><path fill="#111" d="M1441.20 1095.00 Q1445.78 1081.95 1451.55 1072.55 L1452.37 1077.42 L1457.12 1076.09 Q1451.07 1085.31 1441.20 1095.00 Z"/><path fill="#111" d="M1415.80 1135.00 Q1411.22 1148.05 1405.45 1157.45 L1404.63 1152.58 L1399.88 1153.91 Q1405.93 1144.69 1415.80 1135.00 Z"/><g transform="translate(1306.35,1213.30) rotate(0.00) scale(1.0000,1.0000) translate(-22.70,9.3)" fill="none" stroke="#111" stroke-width="2.100" stroke-linecap="round" stroke-linejoin="round"><path transform="translate(0.00,0)" d="M0 -9.3 A5.25 5.7 0 1 1 10.5 -9.3 A5.25 5.7 0 1 1 0 -9.3 Z M2.05 0.6 L8.45 -19.2"/><path transform="translate(16.40,0)" d="M2.8 0 H5.8 Q8.6 0 8.6 -2.8 V-7.2 Q8.6 -10 5.8 -10 H2.8 Q0 -10 0 -7.2 V-2.8 Q0 0 2.8 0 Z M0 -6.5 C0 -13 3 -17 6.6 -18.6"/><path transform="translate(29.60,0)" d="M1.6 -2.2 L0.4 3.4"/><path transform="translate(35.80,0)" d="M4.8 -10 A3.5 4.3 0 1 1 4.8 -18.6 A3.5 4.3 0 1 1 4.8 -10 Z M4.8 -10 A4.8 5 0 1 1 4.8 0 A4.8 5 0 1 1 4.8 -10 Z"/></g><g transform="translate(1305.60,1252.50) rotate(0.00) scale(1.0000,1.0000) translate(-35.60,9.3)" fill="none" stroke="#111" stroke-width="2.100" stroke-linecap="round" stroke-linejoin="round"><path transform="translate(0.00,0)" d="M0.2 -14.8 C0.9 -17.4 2.6 -18.6 4.3 -18.6 C6.7 -18.6 8.4 -16.8 8.4 -14.4 C8.4 -12.9 7.8 -11.7 7 -10.4 L0 0 H8.4"/><path transform="translate(26.00,0)" d="M0 -3.6 V-9.8 A4.2 3.6 0 0 1 8.4 -9.8 V-3.6 A4.2 3.6 0 0 1 0 -3.6 Z"/><path transform="translate(40.30,0)" d="M0 0 V-13.4 H9.5 Q12 -13.4 12 -10.9 V0 M6 -13.4 V0"/><path transform="translate(58.20,0)" d="M0 -4.2 V-15.8 Q0 -18.6 2.9 -18.6 Q5.8 -18.6 5.8 -15.8 Q5.8 -13.8 0.2 -10.4 M0 -4.2 Q0 0 4.2 0 Q8.4 0 8.4 -4.2 V-6.2 Q8.4 -10.4 4.2 -10.4 Q0 -10.4 0 -6.2"/><path transform="translate(70.60,0)" d="M0.3 -0.3 L0.31 -0.3"/></g><line x1="1228.25" y1="1047.00" x2="1428.00" y2="1047.00" stroke="#a8a8a8" stroke-width="1.4" fill="none"/><line x1="1228.25" y1="1166.25" x2="1405.00" y2="1166.25" stroke="#a8a8a8" stroke-width="1.4" fill="none"/><line x1="1241.75" y1="1047.00" x2="1241.75" y2="1166.25" stroke="#555" stroke-width="1" fill="none"/><path fill="#111" d="M1241.75 1047.00 Q1244.88 1060.47 1245.05 1071.50 L1241.75 1067.83 L1238.45 1071.50 Q1238.62 1060.47 1241.75 1047.00 Z"/><path fill="#111" d="M1241.75 1166.25 Q1238.62 1152.78 1238.45 1141.75 L1241.75 1145.42 L1245.05 1141.75 Q1244.88 1152.78 1241.75 1166.25 Z"/><g transform="translate(1226.25,1105.00) rotate(-90.00) scale(1.0000,1.0000) translate(-9.35,9.3)" fill="none" stroke="#111" stroke-width="2.100" stroke-linecap="round" stroke-linejoin="round"><path transform="translate(0.00,0)" d="M0 -13.8 L4.4 -18.6 V0"/><path transform="translate(10.30,0)" d="M0 -15 V-18.6 H8.4 L2.2 0"/></g><line x1="1296.25" y1="1115.00" x2="1428.00" y2="1115.00" stroke="#a8a8a8" stroke-width="1.4" fill="none"/><line x1="1310.00" y1="1010.00" x2="1310.00" y2="1152.50" stroke="#555" stroke-width="1" fill="none"/><path fill="#111" d="M1310.00 1047.00 Q1306.87 1033.53 1306.70 1022.50 L1310.00 1026.17 L1313.30 1022.50 Q1313.13 1033.53 1310.00 1047.00 Z"/><path fill="#111" d="M1310.00 1115.00 Q1313.13 1128.47 1313.30 1139.50 L1310.00 1135.83 L1306.70 1139.50 Q1306.87 1128.47 1310.00 1115.00 Z"/><g transform="translate(1293.75,1081.25) rotate(-90.00) scale(1.0000,1.0000) translate(-9.35,9.3)" fill="none" stroke="#111" stroke-width="2.100" stroke-linecap="round" stroke-linejoin="round"><path transform="translate(0.00,0)" d="M0 -13.8 L4.4 -18.6 V0"/><path transform="translate(10.30,0)" d="M0 -4.2 V-14.4 A4.2 4.2 0 0 1 8.4 -14.4 V-4.2 A4.2 4.2 0 0 1 0 -4.2 Z"/></g><line x1="1398.25" y1="684.25" x2="1729.50" y2="619.25" stroke="#555" stroke-width="1" fill="none"/><path fill="#111" d="M1398.25 684.25 Q1410.87 678.58 1421.66 676.29 L1418.69 680.24 L1422.93 682.77 Q1412.08 684.73 1398.25 684.25 Z"/><path fill="#111" d="M1729.50 619.25 Q1716.88 624.92 1706.09 627.21 L1709.06 623.26 L1704.82 620.73 Q1715.67 618.77 1729.50 619.25 Z"/><g transform="translate(1557.50,627.50) rotate(-11.10) scale(1.0000,1.0000) translate(-29.65,9.3)" fill="none" stroke="#111" stroke-width="2.100" stroke-linecap="round" stroke-linejoin="round"><path transform="translate(0.00,0)" d="M0 -9.3 A5.25 5.7 0 1 1 10.5 -9.3 A5.25 5.7 0 1 1 0 -9.3 Z M2.05 0.6 L8.45 -19.2"/><path transform="translate(16.40,0)" d="M4.6 -18.6 L0 -4 H9.2 M6.9 -18.6 V0"/><path transform="translate(31.50,0)" d="M2.8 -18.6 H5.8 Q8.6 -18.6 8.6 -15.8 V-11.4 Q8.6 -8.6 5.8 -8.6 H2.8 Q0 -8.6 0 -11.4 V-15.8 Q0 -18.6 2.8 -18.6 Z M8.6 -12.1 C8.6 -5.6 5.6 -1.6 2 0"/><path transform="translate(44.70,0)" d="M1.6 -2.2 L0.4 3.4"/><path transform="translate(50.90,0)" d="M8 -18.6 H0.5 L0.3 -10.8 H3.8 A4.6 5.4 0 0 1 3.8 0 H0"/></g><g transform="translate(1041.15,1361.65) rotate(0.00) scale(1.2900,1.2900) translate(-80.00,9.3)" fill="none" stroke="#111" stroke-width="1.938" stroke-linecap="round" stroke-linejoin="round"><path transform="translate(0.00,0)" d="M0 0 L5.8 -18.6 L11.6 0 M2.1 -6.6 H9.5"/><path transform="translate(17.89,0)" d="M0 -9.3 H7"/><path transform="translate(31.18,0)" d="M0 0 L5.8 -18.6 L11.6 0 M2.1 -6.6 H9.5"/><path transform="translate(60.76,0)" d="M0.2 -14.8 C0.9 -17.4 2.6 -18.6 4.3 -18.6 C6.7 -18.6 8.4 -16.8 8.4 -14.4 C8.4 -12.9 7.8 -11.7 7 -10.4 L0 0 H8.4"/><path transform="translate(87.15,0)" d="M0 0 V-13.4 L4.9 -4.6 L9.8 -13.4 V0"/><path transform="translate(103.24,0)" d="M8.4 0 H3 Q0 0 0 -3 V-10.4 Q0 -13.4 3 -13.4 H5.4 Q8.4 -13.4 8.4 -10.4 V-6.7 H0"/><path transform="translate(117.93,0)" d="M6.9 -13.4 H3 Q0 -13.4 0 -10.4 V-3 Q0 0 3 0 H6.9"/><path transform="translate(131.12,0)" d="M0 0 V-13.4 H9.5 Q12 -13.4 12 -10.9 V0 M6 -13.4 V0"/><path transform="translate(149.40,0)" d="M9.4 -13.4 H3 Q0 -13.4 0 -10.4 V-3 Q0 0 3 0 H9.4 M9.4 -13.4 V-1.3 L10.6 0.1"/></g><path stroke="#111" stroke-width="1.45" fill="none" stroke-linejoin="round" d="M938.35 1403 V1579.2 M1141.15 1403 V1592.4 M1032.45 1416.6 V1592.4 M938.35 1416.6 H1032.45 M1032.45 1443.8 H1141.15 M1032.45 1538.4 H1141.15 M1032.45 1584.7 H1141.15 M1032.45 1592.4 H1141.15 M938.35 1572.2 H1032.45 M938.35 1579.2 H1032.45"/><clipPath id="hc5"><rect x="938.35" y="1403.00" width="94.10" height="13.60"/></clipPath><g clip-path="url(#hc5)" stroke="#1a1a1a" stroke-width="0.95"><line x1="898.60" y1="1403.00" x2="912.20" y2="1416.60"/><line x1="927.30" y1="1403.00" x2="940.90" y2="1416.60"/><line x1="956.00" y1="1403.00" x2="969.60" y2="1416.60"/><line x1="984.70" y1="1403.00" x2="998.30" y2="1416.60"/><line x1="1013.40" y1="1403.00" x2="1027.00" y2="1416.60"/><line x1="921.10" y1="1403.00" x2="907.50" y2="1416.60"/><line x1="949.80" y1="1403.00" x2="936.20" y2="1416.60"/><line x1="978.50" y1="1403.00" x2="964.90" y2="1416.60"/><line x1="1007.20" y1="1403.00" x2="993.60" y2="1416.60"/><line x1="1035.90" y1="1403.00" x2="1022.30" y2="1416.60"/></g><clipPath id="hc6"><rect x="1032.45" y="1403.00" width="108.70" height="40.80"/></clipPath><g clip-path="url(#hc6)" stroke="#1a1a1a" stroke-width="0.95"><line x1="984.70" y1="1403.00" x2="1025.50" y2="1443.80"/><line x1="1013.40" y1="1403.00" x2="1054.20" y2="1443.80"/><line x1="1042.10" y1="1403.00" x2="1082.90" y2="1443.80"/><line x1="1070.80" y1="1403.00" x2="1111.60" y2="1443.80"/><line x1="1099.50" y1="1403.00" x2="1140.30" y2="1443.80"/><line x1="1128.20" y1="1403.00" x2="1169.00" y2="1443.80"/><line x1="1007.20" y1="1403.00" x2="966.40" y2="1443.80"/><line x1="1035.90" y1="1403.00" x2="995.10" y2="1443.80"/><line x1="1064.60" y1="1403.00" x2="1023.80" y2="1443.80"/><line x1="1093.30" y1="1403.00" x2="1052.50" y2="1443.80"/><line x1="1122.00" y1="1403.00" x2="1081.20" y2="1443.80"/><line x1="1150.70" y1="1403.00" x2="1109.90" y2="1443.80"/><line x1="1179.40" y1="1403.00" x2="1138.60" y2="1443.80"/></g><clipPath id="hc7"><rect x="1032.45" y="1538.40" width="108.70" height="46.30"/></clipPath><g clip-path="url(#hc7)" stroke="#1a1a1a" stroke-width="0.95"><line x1="976.60" y1="1538.40" x2="1022.90" y2="1584.70"/><line x1="1005.30" y1="1538.40" x2="1051.60" y2="1584.70"/><line x1="1034.00" y1="1538.40" x2="1080.30" y2="1584.70"/><line x1="1062.70" y1="1538.40" x2="1109.00" y2="1584.70"/><line x1="1091.40" y1="1538.40" x2="1137.70" y2="1584.70"/><line x1="1120.10" y1="1538.40" x2="1166.40" y2="1584.70"/><line x1="1015.30" y1="1538.40" x2="969.00" y2="1584.70"/><line x1="1044.00" y1="1538.40" x2="997.70" y2="1584.70"/><line x1="1072.70" y1="1538.40" x2="1026.40" y2="1584.70"/><line x1="1101.40" y1="1538.40" x2="1055.10" y2="1584.70"/><line x1="1130.10" y1="1538.40" x2="1083.80" y2="1584.70"/><line x1="1158.80" y1="1538.40" x2="1112.50" y2="1584.70"/></g><line x1="924" y1="1491.2" x2="1135" y2="1491.2" stroke="#dfe2c8" stroke-width="1.3" stroke-dasharray="31 29"/><line x1="938.35" y1="1514.50" x2="1032.45" y2="1514.50" stroke="#555" stroke-width="1" fill="none"/><path fill="#111" d="M938.35 1514.50 Q951.83 1511.37 962.85 1511.20 L959.18 1514.50 L962.85 1517.80 Q951.83 1517.63 938.35 1514.50 Z"/><path fill="#111" d="M1032.45 1514.50 Q1018.98 1517.63 1007.95 1517.80 L1011.62 1514.50 L1007.95 1511.20 Q1018.98 1511.37 1032.45 1514.50 Z"/><g transform="translate(983.85,1489.50) rotate(0.00) scale(1.0000,1.0000) translate(-4.20,9.3)" fill="none" stroke="#111" stroke-width="2.100" stroke-linecap="round" stroke-linejoin="round"><path transform="translate(0.00,0)" d="M0 -15 V-18.6 H8.4 L2.2 0"/></g><g fill="#fff" fill-opacity="0.55"><path fill-rule="evenodd" d="M580.9 928 H703.9 V1050.6 H611.9 V1096.4 H580.9 Z M611.9 959.8 V1019.6 H671.7 V959.8 Z M719.4 927.5 H751.3 V1019.5 H810.5 V927.5 H842.3 V1051.25 H719.4 Z M858.3 927.5 H981.2 V959.2 H890.2 V1051.25 H858.3 Z M992.5 927.5 H1115.5 V1051.25 H992.5 Z M1024 956 V977 H1084 V956 Z M1024 1005 V1019 H1080 V1005 Z M1129 881 H1161 V1051.25 H1129 Z M1177 927.5 H1298.7 V1051.25 H1177 Z M1208 959.2 V1019.4 H1267 V959.2 Z M1314.5 927.5 H1439 V1097.5 H1345.8 V1065.8 H1406.7 V1051.25 H1314.5 Z M1347.8 959.2 V1019.4 H1406.7 V959.2 Z M1453.6 881.7 H1485 V913.6 H1453.6 Z M1453.6 927.5 H1485 V1051.25 H1453.6 Z M1501.4 927.5 H1624.6 V959.2 H1533.3 V1019.4 H1624.6 V1051.25 H1501.4 Z"/><circle cx="390.00" cy="942.50" r="13.75"/><circle cx="390.00" cy="988.75" r="13.75"/><circle cx="390.00" cy="1035.00" r="13.75"/><circle cx="390.00" cy="1081.25" r="13.75"/><circle cx="436.25" cy="942.50" r="13.75"/><circle cx="436.25" cy="988.75" r="13.75"/><circle cx="436.25" cy="1035.00" r="13.75"/><circle cx="436.25" cy="1081.25" r="13.75"/><circle cx="482.50" cy="942.50" r="13.75"/><circle cx="482.50" cy="988.75" r="13.75"/><circle cx="482.50" cy="1035.00" r="13.75"/><circle cx="482.50" cy="1081.25" r="13.75"/><circle cx="528.75" cy="942.50" r="13.75"/><circle cx="528.75" cy="988.75" r="13.75"/><circle cx="528.75" cy="1035.00" r="13.75"/><circle cx="528.75" cy="1081.25" r="13.75"/><text x="628" y="1096" font-size="52" font-weight="bold" textLength="695" lengthAdjust="spacing">research &amp; development</text></g><g fill="#c6d58e" opacity="0.9"><path d="M390 1081.25 L436.25 1035 H482.5 V988.75 L528.75 942.5" stroke="#c6d58e" stroke-width="10" fill="none" stroke-linejoin="round"/><circle cx="528.75" cy="942.50" r="13.5"/><circle cx="482.50" cy="988.75" r="13.5"/><circle cx="482.50" cy="1035.00" r="13.5"/><circle cx="436.25" cy="1035.00" r="13.5"/><circle cx="390.00" cy="1081.25" r="13.5"/></g></svg></body></html>
